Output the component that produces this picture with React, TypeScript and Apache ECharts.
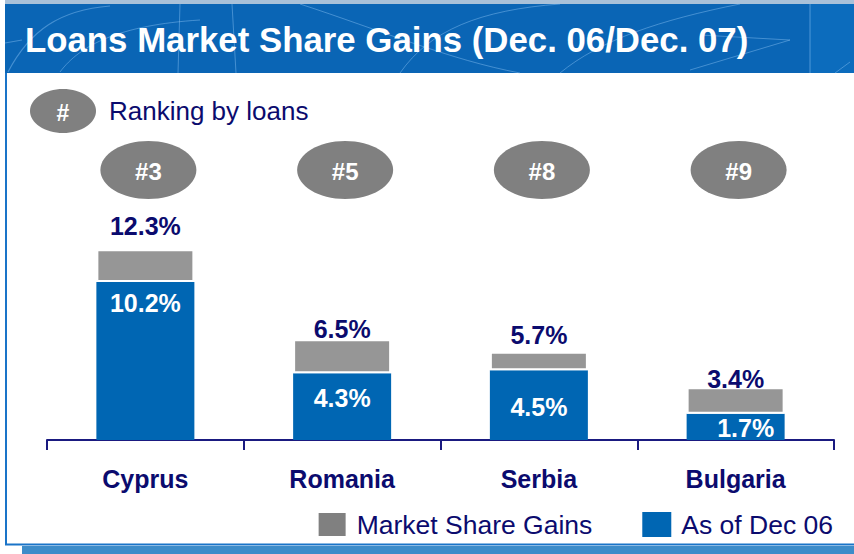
import React, { useEffect, useRef } from "react";
import * as echarts from "echarts";

const categories = ["Cyprus", "Romania", "Serbia", "Bulgaria"];
const dec06Values = [10.2, 4.3, 4.5, 1.7];
const dec07Totals = [12.3, 6.5, 5.7, 3.4];
const gainValues = [2.1, 2.2, 1.2, 1.7];
const rankings = [3, 5, 8, 9];

const FONT = '"Liberation Sans", Arial, Helvetica, sans-serif';
const NAVY = "#0b0b6e";
const BLUE = "#0066b3";
const GRAY_BAR = "#969696";
const GRAY = "#808080";

const blueLabelTweaks = [
  { position: "insideTop", distance: 9 },
  { position: "inside", offset: [0, -9] },
  { position: "inside", offset: [0, 2] },
  { position: "inside", offset: [10, 1] },
];
const totalLabelDistances = [11, -2, 4, -4];

export default function App() {
  const ref = useRef<HTMLDivElement>(null);

  useEffect(() => {
    document.body.style.margin = "0";
    const chart = echarts.init(ref.current!, null, { renderer: "svg" });
    const patternStroke = "rgba(140,195,245,0.45)";
    chart.setOption({
      animation: false,
      grid: { left: 47, right: 20, top: 223, bottom: 114 },
      legend: {
        data: [
          { name: "Market Share Gains", itemStyle: { color: GRAY } },
          { name: "As of Dec 06", itemStyle: { color: BLUE } },
        ],
        right: 21,
        top: 511,
        padding: 0,
        itemWidth: 29,
        itemHeight: 25,
        itemGap: 50,
        icon: "rect",
        textStyle: { fontSize: 26.5, color: NAVY, fontFamily: FONT, padding: [0, 0, 0, 5] },
      },
      xAxis: {
        type: "category",
        data: categories,
        axisLine: { lineStyle: { color: "#1a1a80", width: 2 } },
        axisTick: { show: true, length: 10, lineStyle: { color: "#1a1a80", width: 2 } },
        axisLabel: { margin: 26, fontSize: 25, fontWeight: "bold", color: NAVY, fontFamily: FONT },
      },
      yAxis: { type: "value", min: 0, max: 14, show: false, splitLine: { show: false } },
      graphic: [
        { type: "rect", shape: { x: 5, y: 0, width: 849, height: 4 }, style: { fill: "#a9c1d9" } },
        { type: "rect", shape: { x: 5, y: 4, width: 849, height: 69 }, style: { fill: "#0a65b5" } },
        { type: "rect", shape: { x: 810, y: 4, width: 44, height: 69 }, style: { fill: "#0c6cbd" } },
        { type: "bezierCurve", shape: { x1: 8, y1: 72, cpx1: 30, cpy1: 30, x2: 110, y2: 6, cpx2: 60, cpy2: 10 }, style: { stroke: patternStroke, fill: null, lineWidth: 1.2 } },
        { type: "bezierCurve", shape: { x1: 60, y1: 72, cpx1: 80, cpy1: 45, x2: 200, y2: 20, cpx2: 120, cpy2: 25 }, style: { stroke: patternStroke, fill: null, lineWidth: 1 } },
        { type: "line", shape: { x1: 5, y1: 43, x2: 22, y2: 40 }, style: { stroke: patternStroke, lineWidth: 1.2 } },
        { type: "line", shape: { x1: 180, y1: 4, x2: 178, y2: 73 }, style: { stroke: patternStroke, lineWidth: 1 } },
        { type: "line", shape: { x1: 232, y1: 4, x2: 236, y2: 73 }, style: { stroke: patternStroke, lineWidth: 1 } },
        { type: "bezierCurve", shape: { x1: 300, y1: 4, cpx1: 380, cpy1: 30, x2: 520, y2: 73, cpx2: 450, cpy2: 60 }, style: { stroke: patternStroke, fill: null, lineWidth: 1 } },
        { type: "bezierCurve", shape: { x1: 400, y1: 73, cpx1: 430, cpy1: 30, x2: 560, y2: 4, cpx2: 480, cpy2: 10 }, style: { stroke: patternStroke, fill: null, lineWidth: 1 } },
        { type: "bezierCurve", shape: { x1: 560, y1: 73, cpx1: 600, cpy1: 40, x2: 740, y2: 4, cpx2: 660, cpy2: 20 }, style: { stroke: patternStroke, fill: null, lineWidth: 1 } },
        { type: "line", shape: { x1: 690, y1: 70, x2: 790, y2: 40 }, style: { stroke: patternStroke, lineWidth: 1 } },
        { type: "line", shape: { x1: 700, y1: 35, x2: 790, y2: 40 }, style: { stroke: patternStroke, lineWidth: 1 } },
        { type: "line", shape: { x1: 810, y1: 4, x2: 810, y2: 73 }, style: { stroke: patternStroke, lineWidth: 1.2 } },
        { type: "line", shape: { x1: 835, y1: 73, x2: 850, y2: 62 }, style: { stroke: patternStroke, lineWidth: 1 } },
        {
          type: "text",
          x: 25,
          y: 39,
          style: {
            text: "Loans Market Share Gains (Dec. 06/Dec. 07)",
            fill: "#ffffff",
            fontSize: 34.8,
            fontWeight: "bold",
            fontFamily: FONT,
            verticalAlign: "middle",
          },
        },
        { type: "line", shape: { x1: 6, y1: 73, x2: 6, y2: 545 }, style: { stroke: "#1a74c8", lineWidth: 2 } },
        { type: "line", shape: { x1: 5, y1: 544.5, x2: 854, y2: 544.5 }, style: { stroke: "#1a74c8", lineWidth: 2 } },
        { type: "rect", shape: { x: 22, y: 546, width: 832, height: 8 }, style: { fill: "#3d8cc9" } },
        { type: "ellipse", shape: { cx: 63, cy: 111, rx: 33, ry: 22 }, style: { fill: GRAY } },
        {
          type: "text",
          x: 63,
          y: 113,
          style: { text: "#", fill: "#fff", fontSize: 23, fontWeight: "bold", fontFamily: FONT, align: "center", verticalAlign: "middle" },
        },
        {
          type: "text",
          x: 109,
          y: 111,
          style: { text: "Ranking by loans", fill: NAVY, fontSize: 26, fontFamily: FONT, verticalAlign: "middle" },
        },
      ],
      series: [
        {
          name: "As of Dec 06",
          type: "bar",
          stack: "loans",
          barWidth: 98,
          itemStyle: { color: BLUE },
          label: {
            show: true,
            position: "inside",
            color: "#fff",
            fontSize: 25,
            fontWeight: "bold",
            fontFamily: FONT,
            formatter: (p: any) => p.value.toFixed(1) + "%",
          },
          data: dec06Values.map((v, i) => ({ value: v, label: blueLabelTweaks[i] })),
        },
        {
          name: "Market Share Gains",
          type: "bar",
          stack: "loans",
          barWidth: 98,
          itemStyle: { color: GRAY_BAR, borderColor: "#ffffff", borderWidth: 2 },
          label: {
            show: true,
            position: "top",
            color: NAVY,
            fontSize: 25,
            fontWeight: "bold",
            fontFamily: FONT,
            formatter: (p: any) => dec07Totals[p.dataIndex].toFixed(1) + "%",
          },
          data: gainValues.map((v, i) => ({ value: v, label: { distance: totalLabelDistances[i] } })),
        },
        {
          name: "Ranking",
          type: "custom",
          silent: true,
          encode: { x: 0, y: 1 },
          data: rankings.map((r, i) => [i, 0, r]),
          renderItem: (_params: any, api: any) => {
            const pt = api.coord([api.value(0), 0]);
            const x = pt[0] + 3;
            return {
              type: "group",
              children: [
                { type: "ellipse", shape: { cx: x, cy: 170, rx: 48, ry: 29 }, style: { fill: GRAY } },
                {
                  type: "text",
                  x,
                  y: 171,
                  style: {
                    text: "#" + api.value(2),
                    fill: "#fff",
                    fontSize: 24,
                    fontWeight: "bold",
                    fontFamily: FONT,
                    align: "center",
                    verticalAlign: "middle",
                  },
                },
              ],
            };
          },
        },
      ],
    });
    return () => chart.dispose();
  }, []);

  return <div ref={ref} style={{ width: 854, height: 554 }} />;
}
